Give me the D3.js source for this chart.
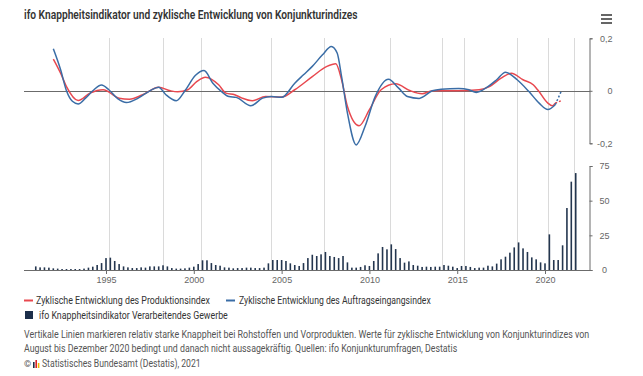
<!DOCTYPE html>
<html>
<head>
<meta charset="utf-8">
<script src="https://cdn.jsdelivr.net/npm/d3@7"></script>
<style>
  html, body { margin: 0; padding: 0; background: #fff; }
  svg { display: block; font-family: "Liberation Sans Narrow", "Roboto", "Open Sans", sans-serif; }
</style>
</head>
<body>
<svg id="chart" width="643" height="376"></svg>
<script>
// ifo Knappheitsindikator, quarterly (Jan/Apr/Jul/Oct), 1991 Q1 .. 2021 Q4, in %
const shortageStart = 1991;
const shortageValues = [
  2.6, 1.9, 1.9, 1.7, 1.2, 1.0, 0.7, 0.7, 0.7, 0.7, 0.7, 1.0, 1.7, 2.4, 3.6, 5.0,
  8.6, 8.9, 6.5, 4.3, 2.6, 1.9, 1.4, 1.4, 1.9, 1.7, 2.6, 2.6, 2.6, 3.4, 2.6, 1.4,
  1.0, 1.0, 1.2, 1.7, 2.4, 4.3, 7.0, 7.0, 5.0, 3.6, 3.1, 1.9, 1.7, 1.2, 1.4, 1.4,
  1.7, 1.7, 1.4, 1.4, 1.7, 4.8, 7.2, 7.2, 7.2, 6.5, 4.8, 3.6, 2.9, 5.0, 8.6, 11.0,
  10.1, 11.3, 13.0, 10.1, 9.4, 8.6, 10.1, 5.5, 1.7, 1.7, 2.2, 3.4, 2.9, 6.5, 12.0, 16.6,
  14.9, 18.5, 15.1, 8.6, 5.3, 6.2, 3.6, 3.1, 2.2, 2.4, 2.2, 2.4, 2.4, 3.6, 3.1, 2.4,
  1.4, 2.9, 2.9, 2.2, 1.4, 1.7, 1.7, 3.1, 2.6, 4.6, 7.7, 9.6, 12.5, 16.3, 19.9, 15.6,
  13.0, 9.1, 7.7, 5.5, 4.8, 25.7, 7.2, 7.2, 17.8, 44.7, 63.7, 69.9
];

// Zyklische Entwicklung des Produktionsindex (red)
const prodDates = [
  "1992-01", "1992-06", "1992-10", "1993-06", "1994-02", "1994-11", "1995-10", "1996-05",
  "1997-02", "1998-01", "1998-09", "1999-02", "1999-09", "2000-03", "2000-09", "2001-06",
  "2001-11", "2002-05", "2002-10", "2003-05", "2004-02", "2005-01", "2005-10", "2006-10",
  "2007-08", "2008-02", "2008-06", "2008-10", "2009-06", "2010-01", "2010-09", "2011-07",
  "2012-05", "2013-01", "2013-08", "2015-01", "2016-04", "2016-11", "2017-07", "2018-02",
  "2018-10", "2019-05", "2019-08", "2020-03", "2020-06", "2020-08", "2020-12"
];
const prodValues = [
  0.121, 0.067, 0.016, -0.037, -0.009, 0.004, -0.028, -0.032,
  -0.015, 0.014, 0.000, -0.004, 0.004, 0.035, 0.052, 0.023,
  -0.009, -0.015, -0.028, -0.038, -0.022, -0.024, 0.004, 0.054,
  0.093, 0.103, 0.042, -0.060, -0.133, -0.072, 0.004, 0.027,
  0.000, -0.011, 0.000, 0.000, 0.004, 0.016, 0.048, 0.067,
  0.042, 0.023, 0.004, -0.047, -0.057, -0.047, -0.038
];

// Zyklische Entwicklung des Auftragseingangsindex (blue)
const orderDates = [
  "1992-01", "1992-06", "1992-10", "1993-02", "1993-06", "1993-11", "1994-04", "1994-10",
  "1995-03", "1995-09", "1996-03", "1996-11", "1997-07", "1998-01", "1998-06", "1999-01",
  "1999-07", "2000-02", "2000-08", "2001-02", "2001-08", "2002-01", "2002-06", "2003-04",
  "2003-12", "2004-06", "2005-01", "2005-10", "2006-04", "2006-10", "2007-05", "2007-11",
  "2008-03", "2008-06", "2008-10", "2009-04", "2009-10", "2010-05", "2011-02", "2011-09",
  "2012-03", "2012-11", "2013-08", "2014-02", "2015-02", "2015-09", "2016-02", "2016-10",
  "2017-04", "2017-10", "2018-06", "2019-02", "2019-09", "2020-03", "2020-08", "2020-12"
];
const orderValues = [
  0.160, 0.080, 0.000, -0.040, -0.050, -0.028, 0.000, 0.022,
  0.004, -0.030, -0.045, -0.028, 0.000, 0.014, -0.015, -0.038,
  0.000, 0.058, 0.077, 0.029, -0.003, -0.022, -0.025, -0.057,
  -0.028, -0.022, -0.025, 0.029, 0.061, 0.093, 0.137, 0.169,
  0.144, 0.054, -0.085, -0.206, -0.136, -0.022, 0.044, 0.010,
  -0.022, -0.029, 0.000, 0.006, 0.009, 0.004, -0.006, 0.016,
  0.042, 0.071, 0.042, -0.003, -0.047, -0.071, -0.053, -0.003
];

// values from here on are only conditionally meaningful (dashed)
const uncertainFrom = "2020-08";

// months with relatively strong shortage (vertical lines)
const markerDates = [
  "1995-03", "1998-04", "2000-06", "2004-06", "2007-06", "2011-03",
  "2014-03", "2015-06", "2018-06", "2020-03", "2021-09"
];

const yearTicks = [1995, 2000, 2005, 2010, 2015, 2020];
const cycleTicks = [-0.2, 0, 0.2];
const shortageTicks = [0, 25, 50, 75];

const titleText = "ifo Knappheitsindikator und zyklische Entwicklung von Konjunkturindizes";
const legendLabels = [
  "Zyklische Entwicklung des Produktionsindex",
  "Zyklische Entwicklung des Auftragseingangsindex",
  "ifo Knappheitsindikator Verarbeitendes Gewerbe"
];
const noteLines = [
  "Vertikale Linien markieren relativ starke Knappheit bei Rohstoffen und Vorprodukten. Werte für zyklische Entwicklung von Konjunkturindizes von",
  "August bis Dezember 2020 bedingt und danach nicht aussagekräftig. Quellen: ifo Konjunkturumfragen, Destatis"
];
const creditText = "Statistisches Bundesamt (Destatis), 2021";

const RED = "#e8484f";
const BLUE = "#3a6da6";
const BAR = "#24364f";

const parseMonth = s => d3.timeParse("%Y-%m")(s);
const svg = d3.select("#chart");

/** Scales */
const left = 24, right = 590;
const x = d3.scaleTime()
  .domain([new Date(1995, 0, 1), new Date(2020, 0, 1)])
  .range([106, 545]);
x.domain([x.invert(left), x.invert(right)]).range([left, right]);

const yCycle = d3.scaleLinear().domain([-0.2, 0.2]).range([143.3, 38.3]);
const yBar = d3.scaleLinear().domain([0, 75]).range([270, 166]);

const de = d3.formatLocale({ decimal: ",", thousands: ".", grouping: [3], currency: ["", "€"], minus: "-" });
const fmtCycle = d => (d === 0 ? "0" : de.format(".1f")(d));

/**
 * Place a text at (x0, y0) and squeeze it horizontally so it takes the
 * width of the condensed font used in the original.
 */
function placeText(sel, x0, y0, width) {
  sel.each(function () {
    const t = d3.select(this).attr("x", 0).attr("y", 0);
    const len = this.getComputedTextLength();
    const sx = len > width ? width / len : 1;
    t.attr("transform", `translate(${x0},${y0}) scale(${sx},1)`);
  });
}

/** Vertical marker lines */
svg.append("g")
  .attr("class", "markers")
  .selectAll("rect")
  .data(markerDates.map(parseMonth))
  .join("rect")
  .attr("x", d => Math.round(x(d)))
  .attr("width", 1)
  .attr("y", Math.round(yCycle(0.2)))
  .attr("height", Math.round(yBar(0) - yCycle(0.2)))
  .attr("fill", "#dadada");

/** Bars */
const bars = shortageValues.map((v, i) => ({ date: new Date(shortageStart, i * 3, 1), value: v }));
svg.append("g")
  .selectAll("rect")
  .data(bars)
  .join("rect")
  .attr("x", d => x(d.date) - 0.8)
  .attr("width", 1.6)
  .attr("y", d => yBar(d.value))
  .attr("height", d => yBar(0) - yBar(d.value))
  .attr("fill", BAR);

/** Baselines */
svg.append("line")
  .attr("x1", left).attr("x2", right)
  .attr("y1", Math.round(yCycle(0)) + 0.5).attr("y2", Math.round(yCycle(0)) + 0.5)
  .attr("stroke", "#6b6b6b");
svg.append("line")
  .attr("x1", left).attr("x2", right)
  .attr("y1", yBar(0) + 0.5).attr("y2", yBar(0) + 0.5)
  .attr("stroke", "#6b6b6b");

/** Lines */
const line = d3.line()
  .x(d => x(d.date))
  .y(d => yCycle(d.value))
  .curve(d3.curveMonotoneX);

const cut = parseMonth(uncertainFrom);
function drawSeries(dates, values, color) {
  const pts = dates.map((d, i) => ({ date: parseMonth(d), value: values[i] }));
  svg.append("path")
    .datum(pts.filter(p => p.date <= cut))
    .attr("d", line)
    .attr("fill", "none")
    .attr("stroke", color)
    .attr("stroke-width", 1.5);
  svg.append("path")
    .datum(pts.filter(p => p.date >= cut))
    .attr("d", line)
    .attr("fill", "none")
    .attr("stroke", color)
    .attr("stroke-width", 1.5)
    .attr("stroke-dasharray", "2,2");
}
drawSeries(prodDates, prodValues, RED);
drawSeries(orderDates, orderValues, BLUE);

/** Right axes */
svg.append("g")
  .attr("transform", `translate(${right - 0.5},0)`)
  .call(d3.axisRight(yCycle).tickValues(cycleTicks).tickFormat(fmtCycle).tickSize(3).tickPadding(8))
  .call(g => g.selectAll("path, line").attr("stroke", "#6b6b6b"))
  .call(g => g.selectAll("text").attr("fill", "#666").attr("font-size", 9)
    .attr("text-anchor", "end").attr("x", 23));

svg.append("g")
  .attr("transform", `translate(${right - 0.5},0)`)
  .call(d3.axisRight(yBar).tickValues(shortageTicks).tickSize(3).tickPadding(8))
  .call(g => g.selectAll("path, line").attr("stroke", "#6b6b6b"))
  .call(g => g.selectAll("text").attr("fill", "#666").attr("font-size", 9)
    .attr("text-anchor", "middle").attr("x", 15));

/** Bottom axis */
svg.append("g")
  .attr("transform", `translate(0,${yBar(0)})`)
  .call(d3.axisBottom(x).tickValues(yearTicks.map(y => new Date(y, 0, 1)))
    .tickFormat(d3.timeFormat("%Y")).tickSize(4).tickPadding(3))
  .call(g => g.select(".domain").remove())
  .call(g => g.selectAll("line").attr("stroke", "#6b6b6b"))
  .call(g => g.selectAll("text").attr("fill", "#666").attr("font-size", 9));

/** Title */
svg.append("text")
  .attr("font-size", 12).attr("font-weight", 600).attr("fill", "#333")
  .text(titleText)
  .call(placeText, 24, 19, 334);

/** Menu icon */
svg.append("g")
  .selectAll("rect")
  .data([0, 1, 2])
  .join("rect")
  .attr("x", 601).attr("y", d => 14 + d * 4)
  .attr("width", 11).attr("height", 2)
  .attr("fill", "#666");

/** Legend */
const legend = svg.append("g").attr("font-size", 10.5).attr("fill", "#333");
legend.append("line").attr("x1", 24).attr("x2", 33).attr("y1", 300.5).attr("y2", 300.5)
  .attr("stroke", RED).attr("stroke-width", 2);
legend.append("text").text(legendLabels[0]).call(placeText, 36, 304, 174);
legend.append("line").attr("x1", 226).attr("x2", 235).attr("y1", 300.5).attr("y2", 300.5)
  .attr("stroke", BLUE).attr("stroke-width", 2);
legend.append("text").text(legendLabels[1]).call(placeText, 239, 304, 192);
legend.append("rect").attr("x", 25).attr("y", 311).attr("width", 8).attr("height", 8)
  .attr("fill", "#1c2e4a");
legend.append("text").text(legendLabels[2]).call(placeText, 39, 319, 189);

/** Notes */
const notes = svg.append("g").attr("font-size", 10).attr("fill", "#555");
noteLines.forEach((s, i) => {
  notes.append("text").text(s).call(placeText, 24, 338 + i * 14, i === 0 ? 566 : 434);
});

/** Credits */
notes.append("text").attr("x", 24).attr("y", 367).attr("font-size", 9).text("©");
const logo = notes.append("g").attr("transform", "translate(33,360)");
logo.append("rect").attr("x", 0).attr("y", 2).attr("width", 1.6).attr("height", 6).attr("fill", "#1c2e4a");
logo.append("rect").attr("x", 2.4).attr("y", 0).attr("width", 1.6).attr("height", 8).attr("fill", "#d9232d");
logo.append("rect").attr("x", 4.8).attr("y", 3).attr("width", 1.6).attr("height", 5).attr("fill", "#f2b705");
notes.append("text").text(creditText).call(placeText, 42, 367, 159);
</script>
</body>
</html>
